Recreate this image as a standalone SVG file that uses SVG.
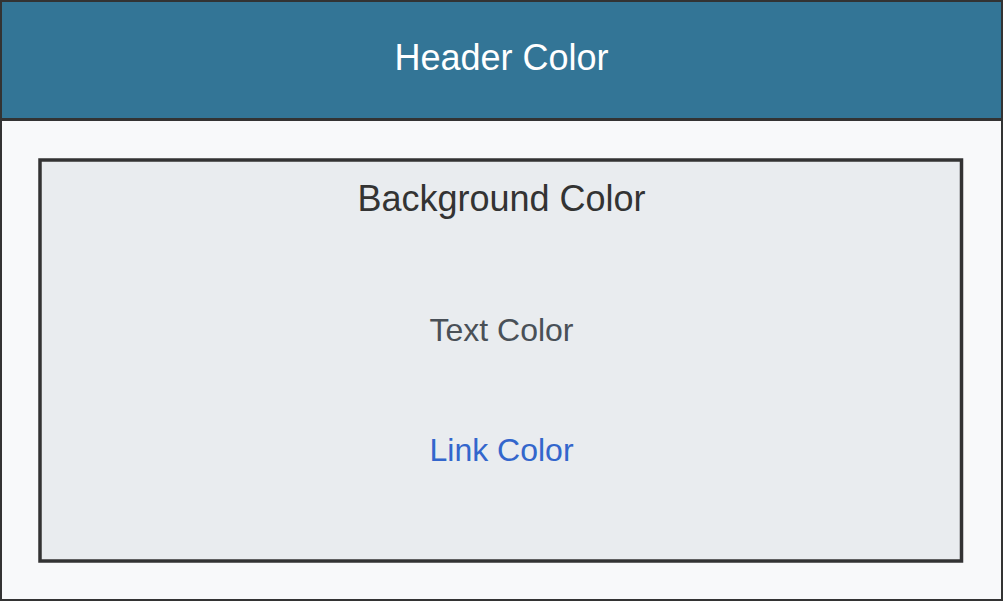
<svg xmlns="http://www.w3.org/2000/svg" width="1003" height="601" viewBox="0 0 1003 601">
<style>
text { font-family: "Liberation Sans", Arial, sans-serif; text-anchor: middle; }
.frame { stroke: #333333; }
</style>
<g id="page">
<rect x="1" y="1" width="1001" height="599" fill="#f8f9fa" class="frame" stroke-width="2"/>
</g>
<g id="header">
<rect x="1" y="1" width="1001" height="118.5" fill="#337596" class="frame" stroke-width="2"/>
<line x1="0" y1="119.5" x2="1003" y2="119.5" class="frame" stroke-width="3"/>
<text x="501.5" y="70" font-size="36" fill="#ffffff">Header Color</text>
</g>
<g id="content">
<rect x="40" y="160" width="921.5" height="401" fill="#e9ecef" class="frame" stroke-width="3.5"/>
<text x="501.5" y="210.5" font-size="36" fill="#333333">Background Color</text>
<text x="501.5" y="341" font-size="32" fill="#495057">Text Color</text>
<text x="501.5" y="461" font-size="32" fill="#3366cc">Link Color</text>
</g>
<g id="connectors"/>
</svg>
